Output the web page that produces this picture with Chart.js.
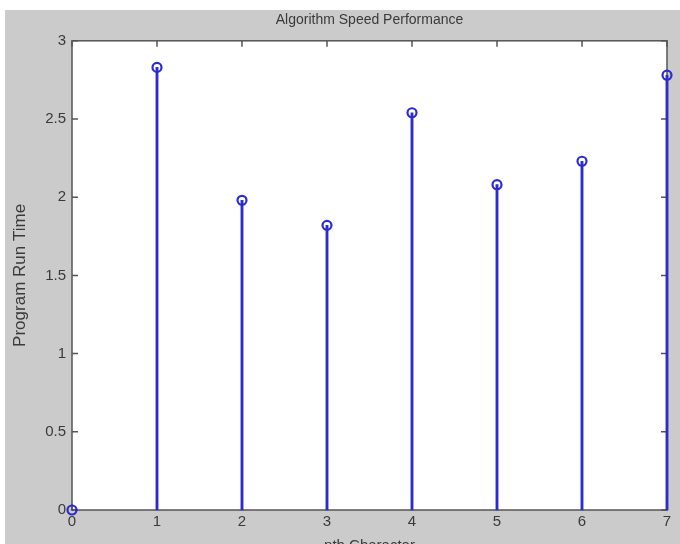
<!DOCTYPE html>
<html>
<head>
<meta charset="utf-8">
<script src="https://cdn.jsdelivr.net/npm/chart.js@4/dist/chart.umd.min.js"></script>
<style>
    html, body { margin: 0; padding: 0; background: #ffffff; overflow: hidden; }
    #wrap { position: absolute; left: 5px; top: 10px; width: 675px; height: 556px; background: #cbcbcb; }
</style>
</head>
<body>
<div id="wrap"><canvas id="stemChart"></canvas></div>
<script>
const characters = [0, 1, 2, 3, 4, 5, 6, 7];
const runTimes = [0, 2.83, 1.98, 1.82, 2.54, 2.08, 2.23, 2.78];

const stemColor = '#2b2bcf';
const inkColor = '#3a3a3a';
const face = 'Liberation Sans';

const stemPoints = characters.map((c, i) => ({ x: c, y: runTimes[i] }));

// white axes box + inward ticks on all four sides, like the matlab figure
const matlabAxes = {
    id: 'matlabAxes',
    beforeDatasetsDraw(chart) {
        const { ctx, chartArea } = chart;
        const { left, right, top, bottom } = chartArea;
        const xs = chart.scales.x;
        const ys = chart.scales.y;
        const len = 6;

        ctx.save();
        ctx.strokeStyle = '#555555';
        ctx.lineWidth = 1.5;
        ctx.beginPath();
        xs.ticks.forEach((t, i) => {
            const px = xs.getPixelForTick(i);
            ctx.moveTo(px, bottom);
            ctx.lineTo(px, bottom - len);
            ctx.moveTo(px, top);
            ctx.lineTo(px, top + len);
        });
        ys.ticks.forEach((t, i) => {
            const py = ys.getPixelForTick(i);
            ctx.moveTo(left, py);
            ctx.lineTo(left + len, py);
            ctx.moveTo(right, py);
            ctx.lineTo(right - len, py);
        });
        ctx.stroke();
        ctx.strokeRect(left, top, right - left, bottom - top);
        ctx.restore();
    },
    beforeDraw(chart) {
        const { ctx, chartArea } = chart;
        ctx.save();
        ctx.fillStyle = '#ffffff';
        ctx.fillRect(chartArea.left, chartArea.top, chartArea.right - chartArea.left, chartArea.bottom - chartArea.top);
        ctx.restore();
    }
};

const ctx = document.getElementById('stemChart').getContext('2d');
new Chart(ctx, {
    type: 'scatter',
    data: {
        datasets: [
            {
                type: 'bar',
                label: 'stems',
                data: stemPoints,
                backgroundColor: stemColor,
                barThickness: 2.2,
                clip: false,
                order: 2
            },
            {
                type: 'scatter',
                label: 'Program Run Time',
                data: stemPoints,
                pointStyle: 'circle',
                pointRadius: 4.5,
                borderWidth: 2.2,
                borderColor: stemColor,
                backgroundColor: 'rgba(0,0,0,0)',
                clip: false,
                order: 1
            }
        ]
    },
    options: {
        responsive: true,
        maintainAspectRatio: false,
        animation: false,
        layout: {
            autoPadding: false,
            padding: { left: 0, right: 13, top: 0, bottom: 0 }
        },
        plugins: {
            legend: { display: false },
            tooltip: { enabled: false },
            title: {
                display: true,
                text: 'Algorithm Speed Performance',
                color: inkColor,
                fullSize: false,
                font: { family: face, size: 14, weight: 'normal' },
                padding: { top: 2, bottom: 12 }
            }
        },
        scales: {
            x: {
                type: 'linear',
                min: 0,
                max: 7,
                offset: false,
                grid: { display: false, drawTicks: false, offset: false },
                border: { display: false },
                ticks: {
                    stepSize: 1,
                    padding: 3,
                    color: inkColor,
                    font: { family: face, size: 15 }
                },
                title: {
                    display: true,
                    text: 'nth Character',
                    color: inkColor,
                    font: { family: face, size: 15 },
                    padding: { top: 0, bottom: 11 }
                },
                afterFit(scale) { scale.height = 56; }
            },
            y: {
                type: 'linear',
                min: 0,
                max: 3,
                grid: { display: false, drawTicks: false },
                border: { display: false },
                ticks: {
                    stepSize: 0.5,
                    padding: 6,
                    color: inkColor,
                    font: { family: face, size: 15 },
                    callback: (value) => String(Number(value.toFixed(1)))
                },
                title: {
                    display: true,
                    text: 'Program Run Time',
                    color: inkColor,
                    font: { family: face, size: 17 },
                    padding: { top: 5, bottom: 0 }
                },
                afterFit(scale) { scale.width = 67; }
            }
        }
    },
    plugins: [matlabAxes]
});
</script>
</body>
</html>
